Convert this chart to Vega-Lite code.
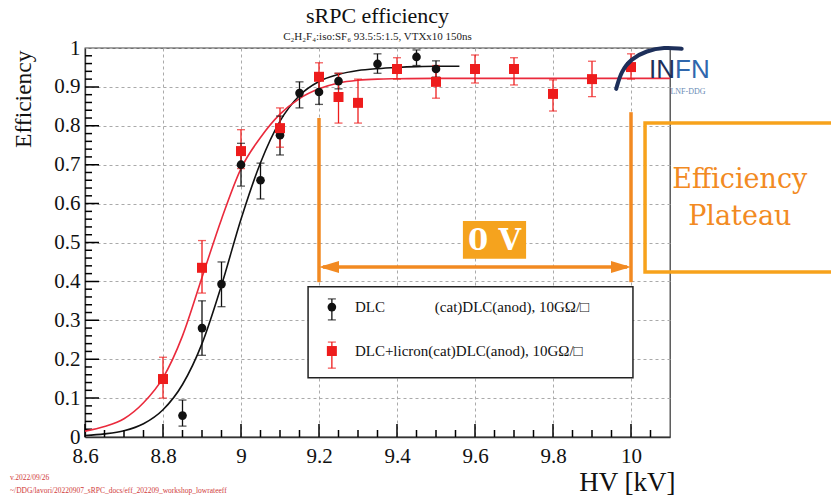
{
  "$schema": "https://vega.github.io/schema/vega-lite/v6.json",
  "width": 585,
  "height": 389,
  "autosize": "none",
  "padding": {"left": 85, "top": 48, "right": 161, "bottom": 59},
  "background": "white",
  "config": {
    "font": "Liberation Serif",
    "view": {"stroke": "#444", "strokeWidth": 1.3},
    "title": {"font": "Liberation Serif", "subtitleFont": "Liberation Serif", "fontWeight": "normal", "color": "#111", "subtitleColor": "#222"}
  },
  "title": {
    "text": "sRPC efficiency",
    "subtitle": "C₂H₂F₄:iso:SF₆ 93.5:5:1.5, VTXx10 150ns",
    "fontSize": 22,
    "subtitleFontSize": 11,
    "subtitlePadding": 3,
    "offset": -6,
    "anchor": "middle",
    "frame": "group"
  },
  "resolve": {"axis": {"x": "independent", "y": "independent"}},
  "datasets": {
    "pts": [
      {"series": "DLC", "hv": 8.85, "eff": 0.055, "lo": 0.028, "hi": 0.095},
      {"series": "DLC", "hv": 8.9, "eff": 0.28, "lo": 0.21, "hi": 0.35},
      {"series": "DLC", "hv": 8.95, "eff": 0.393, "lo": 0.335, "hi": 0.45},
      {"series": "DLC", "hv": 9.0, "eff": 0.70, "lo": 0.645, "hi": 0.755},
      {"series": "DLC", "hv": 9.05, "eff": 0.66, "lo": 0.612, "hi": 0.704},
      {"series": "DLC", "hv": 9.1, "eff": 0.776, "lo": 0.725, "hi": 0.825},
      {"series": "DLC", "hv": 9.15, "eff": 0.884, "lo": 0.846, "hi": 0.913},
      {"series": "DLC", "hv": 9.2, "eff": 0.887, "lo": 0.855, "hi": 0.92},
      {"series": "DLC", "hv": 9.25, "eff": 0.915, "lo": 0.895, "hi": 0.935},
      {"series": "DLC", "hv": 9.35, "eff": 0.959, "lo": 0.935, "hi": 0.985},
      {"series": "DLC", "hv": 9.45, "eff": 0.977, "lo": 0.955, "hi": 0.995},
      {"series": "DLC", "hv": 9.5, "eff": 0.946, "lo": 0.925, "hi": 0.967},
      {"series": "DLC+licron", "hv": 8.8, "eff": 0.149, "lo": 0.10, "hi": 0.205},
      {"series": "DLC+licron", "hv": 8.9, "eff": 0.435, "lo": 0.37, "hi": 0.505},
      {"series": "DLC+licron", "hv": 9.0, "eff": 0.735, "lo": 0.69, "hi": 0.79},
      {"series": "DLC+licron", "hv": 9.1, "eff": 0.794, "lo": 0.745, "hi": 0.846},
      {"series": "DLC+licron", "hv": 9.2, "eff": 0.926, "lo": 0.89, "hi": 0.962},
      {"series": "DLC+licron", "hv": 9.25, "eff": 0.874, "lo": 0.807, "hi": 0.935},
      {"series": "DLC+licron", "hv": 9.3, "eff": 0.859, "lo": 0.807, "hi": 0.92},
      {"series": "DLC+licron", "hv": 9.4, "eff": 0.946, "lo": 0.92, "hi": 0.975},
      {"series": "DLC+licron", "hv": 9.5, "eff": 0.913, "lo": 0.871, "hi": 0.955},
      {"series": "DLC+licron", "hv": 9.6, "eff": 0.946, "lo": 0.91, "hi": 0.982},
      {"series": "DLC+licron", "hv": 9.7, "eff": 0.946, "lo": 0.905, "hi": 0.975},
      {"series": "DLC+licron", "hv": 9.8, "eff": 0.882, "lo": 0.838, "hi": 0.918},
      {"series": "DLC+licron", "hv": 9.9, "eff": 0.920, "lo": 0.875, "hi": 0.966},
      {"series": "DLC+licron", "hv": 10.0, "eff": 0.951, "lo": 0.92, "hi": 0.985}
    ],
    "fitB": [
      {"hv": 8.6, "eff": 0.004}, {"hv": 8.65, "eff": 0.008}, {"hv": 8.7, "eff": 0.016},
      {"hv": 8.75, "eff": 0.034}, {"hv": 8.8, "eff": 0.07}, {"hv": 8.85, "eff": 0.135},
      {"hv": 8.9, "eff": 0.24}, {"hv": 8.95, "eff": 0.39}, {"hv": 9.0, "eff": 0.56},
      {"hv": 9.05, "eff": 0.705}, {"hv": 9.1, "eff": 0.812}, {"hv": 9.15, "eff": 0.878},
      {"hv": 9.2, "eff": 0.914}, {"hv": 9.25, "eff": 0.932}, {"hv": 9.3, "eff": 0.942},
      {"hv": 9.35, "eff": 0.947}, {"hv": 9.4, "eff": 0.95}, {"hv": 9.45, "eff": 0.952},
      {"hv": 9.5, "eff": 0.953}, {"hv": 9.56, "eff": 0.953}
    ],
    "fitR": [
      {"hv": 8.6, "eff": 0.015}, {"hv": 8.65, "eff": 0.027}, {"hv": 8.7, "eff": 0.047},
      {"hv": 8.75, "eff": 0.088}, {"hv": 8.8, "eff": 0.152}, {"hv": 8.85, "eff": 0.26},
      {"hv": 8.9, "eff": 0.41}, {"hv": 8.95, "eff": 0.56}, {"hv": 9.0, "eff": 0.69},
      {"hv": 9.05, "eff": 0.77}, {"hv": 9.1, "eff": 0.83}, {"hv": 9.15, "eff": 0.87},
      {"hv": 9.2, "eff": 0.895}, {"hv": 9.25, "eff": 0.91}, {"hv": 9.3, "eff": 0.917},
      {"hv": 9.35, "eff": 0.92}, {"hv": 9.4, "eff": 0.921}, {"hv": 9.5, "eff": 0.922},
      {"hv": 10.1, "eff": 0.922}
    ],
    "xMajor": [{"hv": 8.6}, {"hv": 8.8}, {"hv": 9.0}, {"hv": 9.2}, {"hv": 9.4}, {"hv": 9.6}, {"hv": 9.8}, {"hv": 10.0}],
    "xMinor": [{"hv": 8.65}, {"hv": 8.7}, {"hv": 8.75}, {"hv": 8.85}, {"hv": 8.9}, {"hv": 8.95}, {"hv": 9.05}, {"hv": 9.1}, {"hv": 9.15}, {"hv": 9.25}, {"hv": 9.3}, {"hv": 9.35}, {"hv": 9.45}, {"hv": 9.5}, {"hv": 9.55}, {"hv": 9.65}, {"hv": 9.7}, {"hv": 9.75}, {"hv": 9.85}, {"hv": 9.9}, {"hv": 9.95}, {"hv": 10.05}],
    "yMajor": [{"eff": 0.1}, {"eff": 0.2}, {"eff": 0.3}, {"eff": 0.4}, {"eff": 0.5}, {"eff": 0.6}, {"eff": 0.7}, {"eff": 0.8}, {"eff": 0.9}],
    "yMinor": [{"eff": 0.02}, {"eff": 0.04}, {"eff": 0.06}, {"eff": 0.08}, {"eff": 0.12}, {"eff": 0.14}, {"eff": 0.16}, {"eff": 0.18}, {"eff": 0.22}, {"eff": 0.24}, {"eff": 0.26}, {"eff": 0.28}, {"eff": 0.32}, {"eff": 0.34}, {"eff": 0.36}, {"eff": 0.38}, {"eff": 0.42}, {"eff": 0.44}, {"eff": 0.46}, {"eff": 0.48}, {"eff": 0.52}, {"eff": 0.54}, {"eff": 0.56}, {"eff": 0.58}, {"eff": 0.62}, {"eff": 0.64}, {"eff": 0.66}, {"eff": 0.68}, {"eff": 0.72}, {"eff": 0.74}, {"eff": 0.76}, {"eff": 0.78}, {"eff": 0.82}, {"eff": 0.84}, {"eff": 0.86}, {"eff": 0.88}, {"eff": 0.92}, {"eff": 0.94}, {"eff": 0.96}, {"eff": 0.98}],
    "logoArc": [
      {"k": 1, "hv": 9.962, "eff": 0.895},
      {"k": 2, "hv": 9.975, "eff": 0.94},
      {"k": 3, "hv": 10.0, "eff": 0.972},
      {"k": 4, "hv": 10.04, "eff": 0.993},
      {"k": 5, "hv": 10.085, "eff": 1.002},
      {"k": 6, "hv": 10.13, "eff": 0.998}
    ]
  },
  "layer": [
    {
      "data": {"name": "fitB"},
      "mark": {"type": "line", "color": "#111", "strokeWidth": 1.6, "interpolate": "monotone", "clip": true},
      "encoding": {
        "x": {
          "field": "hv", "type": "quantitative",
          "scale": {"domain": [8.6, 10.1], "nice": false, "zero": false},
          "axis": {
            "orient": "bottom",
            "title": "HV [kV]",
            "values": [8.6, 8.8, 9.0, 9.2, 9.4, 9.6, 9.8, 10.0],
            "format": "~g",
            "ticks": false,
            "grid": true, "gridDash": [3, 3], "gridColor": "#aaaaaa", "gridWidth": 1,
            "labelFont": "Liberation Serif", "labelFontSize": 21, "labelColor": "#111",
            "labelPadding": 8, "labelOverlap": false, "labelFlush": false,
            "domainColor": "#333", "domainWidth": 1.3,
            "titleFont": "Liberation Serif", "titleFontSize": 27, "titleFontWeight": "normal", "titleColor": "#111",
            "titleAnchor": "end", "titleAlign": "right", "titleX": 590, "titleY": 53, "titleBaseline": "alphabetic"
          }
        },
        "y": {
          "field": "eff", "type": "quantitative",
          "scale": {"domain": [0, 1], "nice": false},
          "axis": {
            "orient": "left",
            "title": "Efficiency",
            "values": [0, 0.1, 0.2, 0.3, 0.4, 0.5, 0.6, 0.7, 0.8, 0.9, 1.0],
            "format": "~g",
            "ticks": false,
            "grid": true, "gridDash": [3, 3], "gridColor": "#aaaaaa", "gridWidth": 1,
            "labelFont": "Liberation Serif", "labelFontSize": 21, "labelColor": "#111",
            "labelPadding": 5, "labelOverlap": false, "labelFlush": false,
            "domainColor": "#333", "domainWidth": 1.3,
            "titleFont": "Liberation Serif", "titleFontSize": 23.5, "titleFontWeight": "normal", "titleColor": "#111",
            "titleAngle": -90, "titleAnchor": "end", "titleAlign": "right", "titleX": -55, "titleY": 2, "titleBaseline": "alphabetic"
          }
        }
      }
    },
    {
      "data": {"name": "xMajor"},
      "mark": {"type": "tick", "orient": "vertical", "size": 13, "thickness": 1.5, "color": "#000", "opacity": 1},
      "encoding": {"x": {"field": "hv", "type": "quantitative", "axis": null}, "y": {"datum": 0.0167, "type": "quantitative", "axis": null}}
    },
    {
      "data": {"name": "xMinor"},
      "mark": {"type": "tick", "orient": "vertical", "size": 7, "thickness": 1.5, "color": "#000", "opacity": 1},
      "encoding": {"x": {"field": "hv", "type": "quantitative", "axis": null}, "y": {"datum": 0.009, "type": "quantitative", "axis": null}}
    },
    {
      "data": {"name": "yMajor"},
      "mark": {"type": "tick", "orient": "horizontal", "size": 14, "thickness": 1.5, "color": "#000", "opacity": 1},
      "encoding": {"y": {"field": "eff", "type": "quantitative", "axis": null}, "x": {"datum": 8.618, "type": "quantitative", "axis": null}}
    },
    {
      "data": {"name": "yMinor"},
      "mark": {"type": "tick", "orient": "horizontal", "size": 7, "thickness": 1.5, "color": "#000", "opacity": 1},
      "encoding": {"y": {"field": "eff", "type": "quantitative", "axis": null}, "x": {"datum": 8.609, "type": "quantitative", "axis": null}}
    },
    {
      "data": {"name": "fitR"},
      "mark": {"type": "line", "color": "#ea2a3c", "strokeWidth": 1.6, "interpolate": "monotone", "clip": true},
      "encoding": {
        "x": {"field": "hv", "type": "quantitative", "axis": null},
        "y": {"field": "eff", "type": "quantitative", "axis": null}
      }
    },
    {
      "data": {"name": "pts"},
      "mark": {"type": "rule", "strokeWidth": 1.3},
      "encoding": {
        "x": {"field": "hv", "type": "quantitative", "axis": null},
        "y": {"field": "lo", "type": "quantitative", "axis": null},
        "y2": {"field": "hi"},
        "color": {"field": "series", "type": "nominal", "scale": {"domain": ["DLC", "DLC+licron"], "range": ["#111111", "#ee1c1c"]}, "legend": null}
      }
    },
    {
      "data": {"name": "pts"},
      "mark": {"type": "tick", "orient": "horizontal", "size": 8, "thickness": 1.3},
      "encoding": {
        "x": {"field": "hv", "type": "quantitative", "axis": null},
        "y": {"field": "lo", "type": "quantitative", "axis": null},
        "color": {"field": "series", "type": "nominal", "legend": null}
      }
    },
    {
      "data": {"name": "pts"},
      "mark": {"type": "tick", "orient": "horizontal", "size": 8, "thickness": 1.3},
      "encoding": {
        "x": {"field": "hv", "type": "quantitative", "axis": null},
        "y": {"field": "hi", "type": "quantitative", "axis": null},
        "color": {"field": "series", "type": "nominal", "legend": null}
      }
    },
    {
      "data": {"name": "pts"},
      "mark": {"type": "point", "filled": true, "opacity": 1},
      "encoding": {
        "x": {"field": "hv", "type": "quantitative", "axis": null},
        "y": {"field": "eff", "type": "quantitative", "axis": null},
        "color": {"field": "series", "type": "nominal", "legend": null},
        "shape": {"field": "series", "type": "nominal", "scale": {"domain": ["DLC", "DLC+licron"], "range": ["circle", "square"]}, "legend": null},
        "size": {"field": "series", "type": "nominal", "scale": {"domain": ["DLC", "DLC+licron"], "range": [75, 100]}, "legend": null}
      }
    },
    {
      "data": {"values": [{}]},
      "mark": {"type": "rect", "fill": "white", "stroke": "#222", "strokeWidth": 1.5},
      "encoding": {
        "x": {"datum": 9.172, "type": "quantitative", "axis": null},
        "x2": {"datum": 10.005},
        "y": {"datum": 0.386, "type": "quantitative", "axis": null},
        "y2": {"datum": 0.152}
      }
    },
    {
      "data": {"values": [{}]},
      "mark": {"type": "rule", "color": "#111", "strokeWidth": 1.3},
      "encoding": {"x": {"datum": 9.233, "type": "quantitative", "axis": null}, "y": {"datum": 0.301, "type": "quantitative", "axis": null}, "y2": {"datum": 0.355}}
    },
    {
      "data": {"values": [{}]},
      "mark": {"type": "rule", "color": "#ee1c1c", "strokeWidth": 1.3},
      "encoding": {"x": {"datum": 9.233, "type": "quantitative", "axis": null}, "y": {"datum": 0.177, "type": "quantitative", "axis": null}, "y2": {"datum": 0.244}}
    },
    {
      "data": {"values": [{}]},
      "mark": {"type": "tick", "orient": "horizontal", "size": 8, "thickness": 1.3, "color": "#111"},
      "encoding": {"x": {"datum": 9.233, "type": "quantitative", "axis": null}, "y": {"datum": 0.301, "type": "quantitative", "axis": null}}
    },
    {
      "data": {"values": [{}]},
      "mark": {"type": "tick", "orient": "horizontal", "size": 8, "thickness": 1.3, "color": "#111"},
      "encoding": {"x": {"datum": 9.233, "type": "quantitative", "axis": null}, "y": {"datum": 0.355, "type": "quantitative", "axis": null}}
    },
    {
      "data": {"values": [{}]},
      "mark": {"type": "tick", "orient": "horizontal", "size": 8, "thickness": 1.3, "color": "#ee1c1c"},
      "encoding": {"x": {"datum": 9.233, "type": "quantitative", "axis": null}, "y": {"datum": 0.177, "type": "quantitative", "axis": null}}
    },
    {
      "data": {"values": [{}]},
      "mark": {"type": "tick", "orient": "horizontal", "size": 8, "thickness": 1.3, "color": "#ee1c1c"},
      "encoding": {"x": {"datum": 9.233, "type": "quantitative", "axis": null}, "y": {"datum": 0.244, "type": "quantitative", "axis": null}}
    },
    {
      "data": {"values": [{}]},
      "mark": {"type": "point", "shape": "circle", "filled": true, "opacity": 1, "color": "#111", "size": 75},
      "encoding": {"x": {"datum": 9.233, "type": "quantitative", "axis": null}, "y": {"datum": 0.334, "type": "quantitative", "axis": null}}
    },
    {
      "data": {"values": [{}]},
      "mark": {"type": "point", "shape": "square", "filled": true, "opacity": 1, "color": "#ee1c1c", "size": 100},
      "encoding": {"x": {"datum": 9.233, "type": "quantitative", "axis": null}, "y": {"datum": 0.221, "type": "quantitative", "axis": null}}
    },
    {
      "data": {"values": [{}]},
      "mark": {"type": "text", "text": "DLC", "align": "left", "baseline": "middle", "font": "Liberation Serif", "fontSize": 15, "color": "#111"},
      "encoding": {"x": {"datum": 9.292, "type": "quantitative", "axis": null}, "y": {"datum": 0.334, "type": "quantitative", "axis": null}}
    },
    {
      "data": {"values": [{}]},
      "mark": {"type": "text", "text": "(cat)DLC(anod), 10GΩ/□", "align": "left", "baseline": "middle", "font": "Liberation Serif", "fontSize": 15, "color": "#111"},
      "encoding": {"x": {"datum": 9.497, "type": "quantitative", "axis": null}, "y": {"datum": 0.334, "type": "quantitative", "axis": null}}
    },
    {
      "data": {"values": [{}]},
      "mark": {"type": "text", "text": "DLC+licron(cat)DLC(anod), 10GΩ/□", "align": "left", "baseline": "middle", "font": "Liberation Serif", "fontSize": 15, "color": "#111"},
      "encoding": {"x": {"datum": 9.292, "type": "quantitative", "axis": null}, "y": {"datum": 0.221, "type": "quantitative", "axis": null}}
    },
    {
      "data": {"values": [{}]},
      "mark": {"type": "rule", "color": "#f28a22", "strokeWidth": 3.5},
      "encoding": {"x": {"datum": 9.2, "type": "quantitative", "axis": null}, "y": {"datum": 0.398, "type": "quantitative", "axis": null}, "y2": {"datum": 0.82}}
    },
    {
      "data": {"values": [{}]},
      "mark": {"type": "rule", "color": "#f28a22", "strokeWidth": 3.5},
      "encoding": {"x": {"datum": 10.0, "type": "quantitative", "axis": null}, "y": {"datum": 0.398, "type": "quantitative", "axis": null}, "y2": {"datum": 0.835}}
    },
    {
      "data": {"values": [{}]},
      "mark": {"type": "rule", "color": "#f28a22", "strokeWidth": 3.5},
      "encoding": {"x": {"datum": 9.21, "type": "quantitative", "axis": null}, "x2": {"datum": 9.99}, "y": {"datum": 0.437, "type": "quantitative", "axis": null}}
    },
    {
      "data": {"values": [{}]},
      "mark": {"type": "point", "shape": "M-1,0L1,-0.6L1,0.6Z", "filled": true, "opacity": 1, "color": "#f28a22", "size": 400},
      "encoding": {"x": {"datum": 9.2256, "type": "quantitative", "axis": null}, "y": {"datum": 0.437, "type": "quantitative", "axis": null}}
    },
    {
      "data": {"values": [{}]},
      "mark": {"type": "point", "shape": "M1,0L-1,-0.6L-1,0.6Z", "filled": true, "opacity": 1, "color": "#f28a22", "size": 400},
      "encoding": {"x": {"datum": 9.9744, "type": "quantitative", "axis": null}, "y": {"datum": 0.437, "type": "quantitative", "axis": null}}
    },
    {
      "data": {"values": [{}]},
      "mark": {"type": "rect", "fill": "#f5a31e"},
      "encoding": {"x": {"datum": 9.569, "type": "quantitative", "axis": null}, "x2": {"datum": 9.731}, "y": {"datum": 0.458, "type": "quantitative", "axis": null}, "y2": {"datum": 0.555}}
    },
    {
      "data": {"values": [{}]},
      "mark": {"type": "text", "text": "0 V", "align": "center", "baseline": "middle", "font": "DejaVu Serif", "fontWeight": "bold", "fontSize": 29, "color": "white"},
      "encoding": {"x": {"datum": 9.65, "type": "quantitative", "axis": null}, "y": {"datum": 0.503, "type": "quantitative", "axis": null}}
    },
    {
      "data": {"values": [{}]},
      "mark": {"type": "rect", "fill": null, "fillOpacity": 0, "stroke": "#f7a21b", "strokeWidth": 3.5},
      "encoding": {"x": {"datum": 10.036, "type": "quantitative", "axis": null}, "x2": {"datum": 10.6}, "y": {"datum": 0.424, "type": "quantitative", "axis": null}, "y2": {"datum": 0.807}}
    },
    {
      "data": {"values": [{}]},
      "mark": {"type": "text", "text": "Efficiency", "align": "center", "baseline": "middle", "font": "DejaVu Serif", "fontSize": 27, "color": "#f28a22"},
      "encoding": {"x": {"datum": 10.279, "type": "quantitative", "axis": null}, "y": {"datum": 0.661, "type": "quantitative", "axis": null}}
    },
    {
      "data": {"values": [{}]},
      "mark": {"type": "text", "text": "Plateau", "align": "center", "baseline": "middle", "font": "DejaVu Serif", "fontSize": 27, "color": "#f28a22"},
      "encoding": {"x": {"datum": 10.279, "type": "quantitative", "axis": null}, "y": {"datum": 0.566, "type": "quantitative", "axis": null}}
    },
    {
      "data": {"name": "logoArc"},
      "mark": {"type": "line", "color": "#1d2f5a", "strokeWidth": 4, "interpolate": "basis", "strokeCap": "round"},
      "encoding": {
        "x": {"field": "hv", "type": "quantitative", "axis": null},
        "y": {"field": "eff", "type": "quantitative", "axis": null},
        "order": {"field": "k", "type": "quantitative"}
      }
    },
    {
      "data": {"values": [{}]},
      "mark": {"type": "text", "text": "IN", "align": "right", "baseline": "middle", "font": "Liberation Sans", "fontSize": 26, "color": "#1d2f5a"},
      "encoding": {"x": {"datum": 10.113, "type": "quantitative", "axis": null}, "y": {"datum": 0.943, "type": "quantitative", "axis": null}}
    },
    {
      "data": {"values": [{}]},
      "mark": {"type": "text", "text": "FN", "align": "left", "baseline": "middle", "font": "Liberation Sans", "fontSize": 26, "color": "#2f67ad"},
      "encoding": {"x": {"datum": 10.113, "type": "quantitative", "axis": null}, "y": {"datum": 0.943, "type": "quantitative", "axis": null}}
    },
    {
      "data": {"values": [{}]},
      "mark": {"type": "text", "text": "LNF-DDG", "align": "center", "baseline": "middle", "font": "Liberation Sans Narrow", "fontSize": 8, "color": "#6a8bb5"},
      "encoding": {"x": {"datum": 10.146, "type": "quantitative", "axis": null}, "y": {"datum": 0.887, "type": "quantitative", "axis": null}}
    },
    {
      "data": {"values": [{}]},
      "mark": {"type": "text", "text": "v.2022/09/26", "align": "left", "baseline": "middle", "font": "Liberation Serif", "fontSize": 7.5, "color": "#d03a3a"},
      "encoding": {"x": {"datum": 8.4077, "type": "quantitative", "axis": null}, "y": {"datum": -0.1054, "type": "quantitative", "axis": null}}
    },
    {
      "data": {"values": [{}]},
      "mark": {"type": "text", "text": "~/DDG/lavori/20220907_sRPC_docs/eff_202209_workshop_lowrateeff", "align": "left", "baseline": "middle", "font": "Liberation Serif", "fontSize": 7.5, "color": "#d03a3a"},
      "encoding": {"x": {"datum": 8.4077, "type": "quantitative", "axis": null}, "y": {"datum": -0.1388, "type": "quantitative", "axis": null}}
    }
  ]
}
